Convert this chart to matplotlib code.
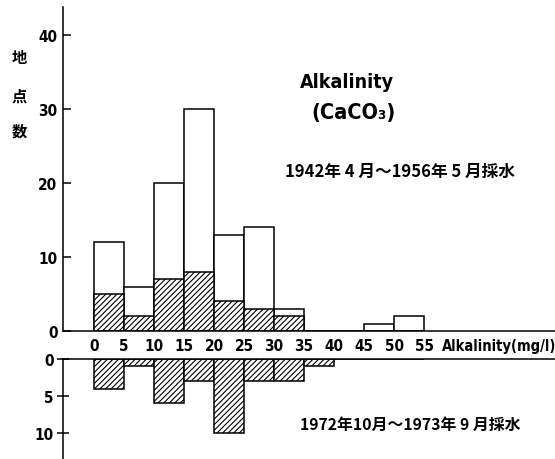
import numpy as np
import matplotlib
matplotlib.use('Agg')
import matplotlib.pyplot as plt

# 階級 (Alkalinity mg/l) の左端
bin_left = [0, 5, 10, 15, 20, 25, 30, 35, 40, 45, 50]
bin_width = 5
# 1942年4月～1956年5月 : 白抜き = 全地点数, 斜線 = うち斜線部分
old_total = [12, 6, 20, 30, 13, 14, 3, 0, 0, 1, 2]
old_hatch = [5, 2, 7, 8, 4, 3, 2, 0, 0, 0, 0]
# 1972年10月～1973年9月
new_count = [4, 1, 6, 3, 10, 3, 3, 1, 0, 0, 0]

xtick_vals = [0, 5, 10, 15, 20, 25, 30, 35, 40, 45, 50, 55]
ytick_upper = [0, 10, 20, 30, 40]
ytick_lower = [0, 5, 10]

plt.rcParams['hatch.linewidth'] = 0.8
plt.rcParams['font.family'] = ['DejaVu Sans']
cjk = ['Noto Sans CJK JP', 'DejaVu Sans']

W, H = 555, 460
fig = plt.figure(figsize=(W / 100, H / 100), dpi=100)

def fx(px):
    return px / W

def fy(py):
    return 1 - py / H

left_px = 63
ax = fig.add_axes([fx(left_px), fy(332), fx(W - left_px), (332 - 8) / H])
ax2 = fig.add_axes([fx(left_px), 0, fx(W - left_px), (460 - 360) / H])

x0_px, px_per_unit = 94, 6.0
xlim = ((left_px - x0_px) / px_per_unit, (W - x0_px) / px_per_unit)

lw = 1.1
x = np.array(bin_left)
ax.bar(x, old_total, width=bin_width, align='edge', facecolor='white',
       edgecolor='black', linewidth=lw)
ax.bar(x, old_hatch, width=bin_width, align='edge', facecolor='white',
       edgecolor='black', linewidth=lw, hatch='//////')
ax2.bar(x, new_count, width=bin_width, align='edge', facecolor='white',
        edgecolor='black', linewidth=lw, hatch='//////')

ax.set_xlim(*xlim)
ax.set_ylim(0, 43.8)
ax2.set_xlim(*xlim)
ax2.set_ylim(13.5, 0)

for a in (ax, ax2):
    for s in a.spines.values():
        s.set_linewidth(1.1)
ax.spines['top'].set_visible(False)
ax.spines['right'].set_visible(False)
ax2.spines['bottom'].set_visible(False)
ax2.spines['right'].set_visible(False)

tick_font = dict(fontsize=11, fontweight='bold', fontstretch='condensed')
ax.set_xticks(xtick_vals)
ax.set_xticklabels([str(v) for v in xtick_vals], **tick_font)
ax.tick_params(axis='x', length=0, pad=5)
ax.set_yticks(ytick_upper)
ax.set_yticklabels([str(v) for v in ytick_upper], **tick_font)
ax.tick_params(axis='y', direction='in', length=6, width=1.1, pad=4)

ax2.set_xticks([])
ax2.set_yticks(ytick_lower)
ax2.set_yticklabels([str(v) for v in ytick_lower], **tick_font)
ax2.tick_params(axis='y', direction='inout', length=9, width=1.1, pad=2)

ax.text(58, -0.045, 'Alkalinity(mg/l)', transform=ax.get_xaxis_transform(),
        ha='left', va='center', fontsize=10.5, fontweight='bold',
        fontstretch='condensed')

# 縦書き 地点数
for ch, py in zip('地点数', [58, 97, 132]):
    fig.text(fx(19), fy(py), ch, ha='center', va='center', fontsize=11,
             fontweight='bold', family=cjk)

fig.text(fx(300), fy(82), 'Alkalinity', ha='left', va='center', fontsize=14,
         fontweight='bold', fontstretch='condensed')
fig.text(fx(311), fy(113), '(CaCO₃)', ha='left', va='center', fontsize=15.5,
         fontweight='bold', fontstretch='condensed')

fig.text(fx(285), fy(172), '1942年 4 月～1956年 5 月採水', ha='left', va='center',
         fontsize=12, fontweight='bold', family=cjk)
fig.text(fx(300), fy(425), '1972年10月～1973年 9 月採水', ha='left', va='center',
         fontsize=11.4, fontweight='bold', family=cjk)

fig.savefig('out.png', dpi=100)
